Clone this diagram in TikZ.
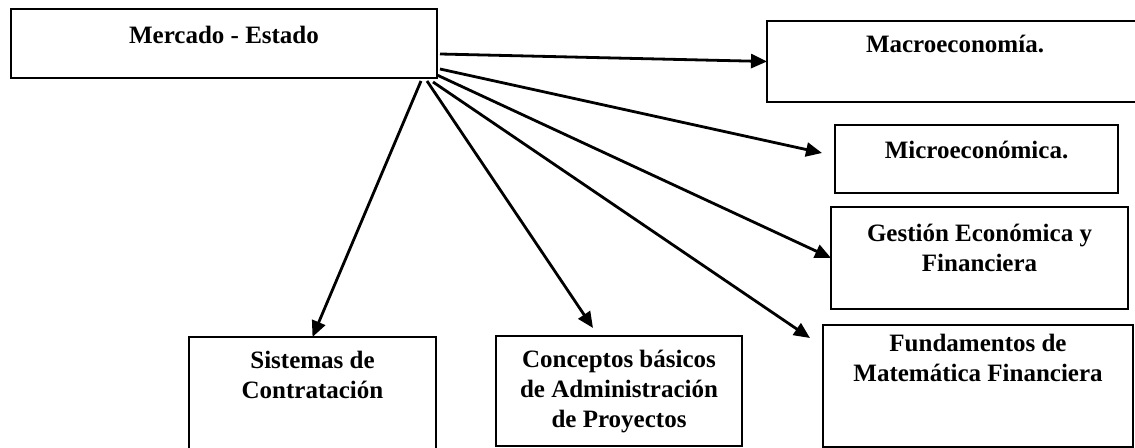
\documentclass[tikz,border=0pt]{standalone}
\usepackage{fontspec}
\setmainfont{Liberation Serif}
\usetikzlibrary{positioning,arrows.meta}

\begin{document}
\begin{tikzpicture}[x=0.5pt,y=-0.5pt]
			\tikzset{caja/.style={draw,line width=0.6pt,inner sep=0pt,outer sep=0pt},
				texto/.style={anchor=north,inner sep=0pt,align=center,font=\fontsize{12.5}{15}\selectfont\bfseries},
				flecha/.style={line width=1.4pt,-{Triangle[length=8pt,width=7pt]}}}
			\useasboundingbox (0,0) rectangle (1135,448);
			\clip (0,0) rectangle (1135,448);
			% cajas
			\node[caja,minimum width=213pt,minimum height=34.5pt] (merc) at (224,43.5) {};
			\node[caja,minimum width=188pt,minimum height=40.5pt] (macro) at (955,61.5) {};
			\node[caja,minimum width=141.5pt,minimum height=34pt] (micro) at (976.5,159) {};
			\node[caja,minimum width=148.5pt,minimum height=51pt] (gest) at (979.5,258) {};
			\node[caja,minimum width=155pt,minimum height=61pt] (fund) at (978,386) {};
			\node[caja,minimum width=123.5pt,minimum height=61.5pt] (sis) at (312.5,398.5) {};
			\node[caja,minimum width=123pt,minimum height=55pt] (conc) at (619,391) {};
			% textos
			\node[texto,below=8.5pt of merc.north] {Mercado - Estado};
			\node[texto,below=7pt of macro.north] {Macroeconomía.};
			\node[texto,below=8pt of micro.north] {Microeconómica.};
			\node[texto,below=8.5pt of gest.north] {Gestión Económica y\\Financiera};
			\node[texto,below=4.5pt of fund.north] {Fundamentos de\\Matemática Financiera};
			\node[texto,below=7pt of sis.north] {Sistemas de\\Contratación};
			\node[texto,below=7pt of conc.north] {Conceptos básicos\\de Administración\\de Proyectos};
			% flechas
			\draw[flecha] ([shift={(3,-24)}]merc.south east) -- (macro.west);
			\draw[flecha] ([shift={(3,-9)}]merc.south east) -- ([shift={(-13,-6)}]micro.west);
			\draw[flecha] ([shift={(0,-3)}]merc.south east) -- (gest.west);
			\draw[flecha] ([shift={(-4,4)}]merc.south east) -- ([shift={(-13,13)}]fund.north west);
			\draw[flecha] ([shift={(-10,3)}]merc.south east) -- ([shift={(-26,-8)}]conc.north);
			\draw[flecha] ([shift={(-16,3)}]merc.south east) -- (sis.north);
		\end{tikzpicture}
\end{document}
